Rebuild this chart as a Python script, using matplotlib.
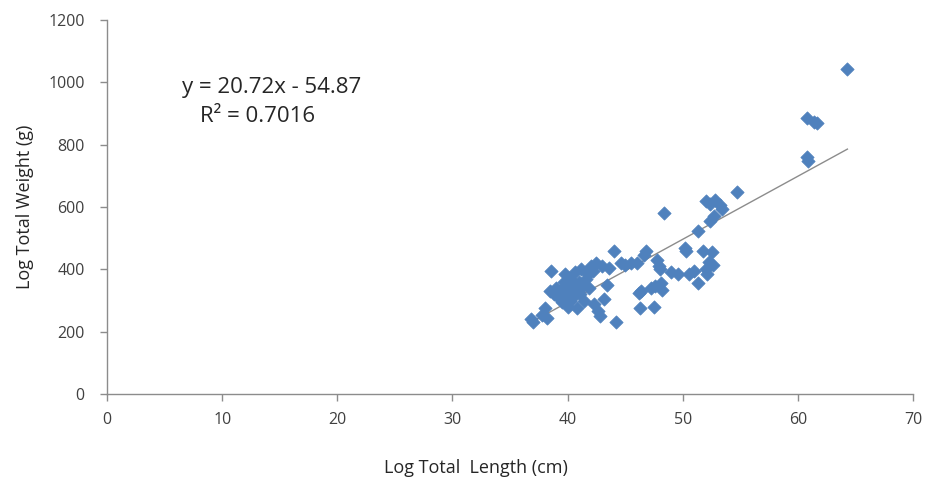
import numpy as np
import matplotlib
matplotlib.use("Agg")
import matplotlib.pyplot as plt

# Length (cm) and weight (g) of sampled fish
length_cm = [
    36.8, 37.0, 37.8, 38.0, 38.2, 38.5, 38.6, 38.8, 39.0, 39.2,
    39.4, 39.5, 39.7, 39.8, 39.9, 40.0, 40.1, 40.2, 40.3, 40.4,
    40.5, 40.6, 40.7, 40.8, 40.9, 41.0, 41.1, 41.2, 41.3, 41.4,
    41.6, 41.8, 41.9, 42.0, 42.2, 42.3, 42.5, 42.6, 42.8, 43.0,
    43.2, 43.4, 43.6, 44.0, 44.2, 44.6, 45.0, 45.5,
    46.0, 46.2, 46.3, 46.4, 46.6, 46.8, 47.2, 47.5, 47.6, 47.8,
    47.9, 48.0, 48.1, 48.2, 48.4, 49.0, 49.6, 50.2, 50.3, 50.5,
    51.0, 51.3, 51.3, 51.8, 52.0, 52.1, 52.3, 52.5, 52.6, 52.0,
    52.4, 52.8, 53.2, 52.7, 52.4, 53.4, 54.7,
    60.8, 60.9, 60.8, 61.4, 61.7, 64.3,
]
weight_g = [
    240, 230, 255, 275, 245, 330, 395, 320, 340, 310,
    335, 295, 360, 385, 320, 280, 345, 300, 365, 330,
    310, 390, 350, 275, 335, 360, 320, 400, 345, 300,
    370, 385, 340, 410, 395, 290, 420, 265, 250, 410,
    305, 350, 405, 460, 232, 420, 415, 420,
    420, 325, 275, 330, 445, 458, 340, 280, 345, 430,
    410, 400, 355, 335, 582, 390, 385, 470, 458, 385,
    395, 355, 522, 460, 400, 385, 425, 455, 415, 620,
    610, 622, 605, 570, 555, 595, 648,
    760, 748, 885, 872, 868, 1042,
]

x_ticks = [0, 10, 20, 30, 40, 50, 60, 70]
y_ticks = [0, 200, 400, 600, 800, 1000, 1200]

equation_text = "y = 20.72x - 54.87"
r2_text = "R\u00b2 = 0.7016"

x = np.array(length_cm)
y = np.array(weight_g)
slope, intercept = np.polyfit(x, y, 1)

plt.rcParams["font.family"] = ["Open Sans", "DejaVu Sans"]

W, H = 926, 493
fig = plt.figure(figsize=(W / 100, H / 100), dpi=100)
ax = fig.add_axes([0.1156, 0.2008, 0.8704, 0.7586])

ax.scatter(x, y, marker="D", s=46, color="#4F81BD", edgecolors="#4F81BD",
           linewidths=0.5, zorder=3)

xl = np.array([x.min(), x.max()])
ax.plot(xl, slope * xl + intercept, color="#8C8C8C", lw=1.0, zorder=2)

ax.set_xlim(0, 70)
ax.set_ylim(0, 1200)
ax.set_xticks(x_ticks)
ax.set_yticks(y_ticks)

for side in ("top", "right"):
    ax.spines[side].set_visible(False)
for side in ("left", "bottom"):
    ax.spines[side].set_color("#8C8C8C")
    ax.spines[side].set_linewidth(1.0)

ax.tick_params(axis="both", direction="out", length=5, width=1.0,
               color="#8C8C8C", labelsize=11.5, labelcolor="#404040")
ax.tick_params(axis="y", pad=11)
ax.tick_params(axis="x", pad=8)

ax.set_xlabel("Log Total  Length (cm)", fontsize=13, color="#262626")
ax.set_ylabel("Log Total Weight (g)", fontsize=13, color="#262626", labelpad=10)
ax.xaxis.set_label_coords(0.458, -0.175)

ax.text(272 / W, 1 - 88 / H, equation_text, transform=fig.transFigure,
        fontsize=16, color="#262626", ha="center", va="center")
ax.text(258 / W, 1 - 116 / H, r2_text, transform=fig.transFigure,
        fontsize=16, color="#262626", ha="center", va="center")

fig.savefig("out.png", dpi=100)
